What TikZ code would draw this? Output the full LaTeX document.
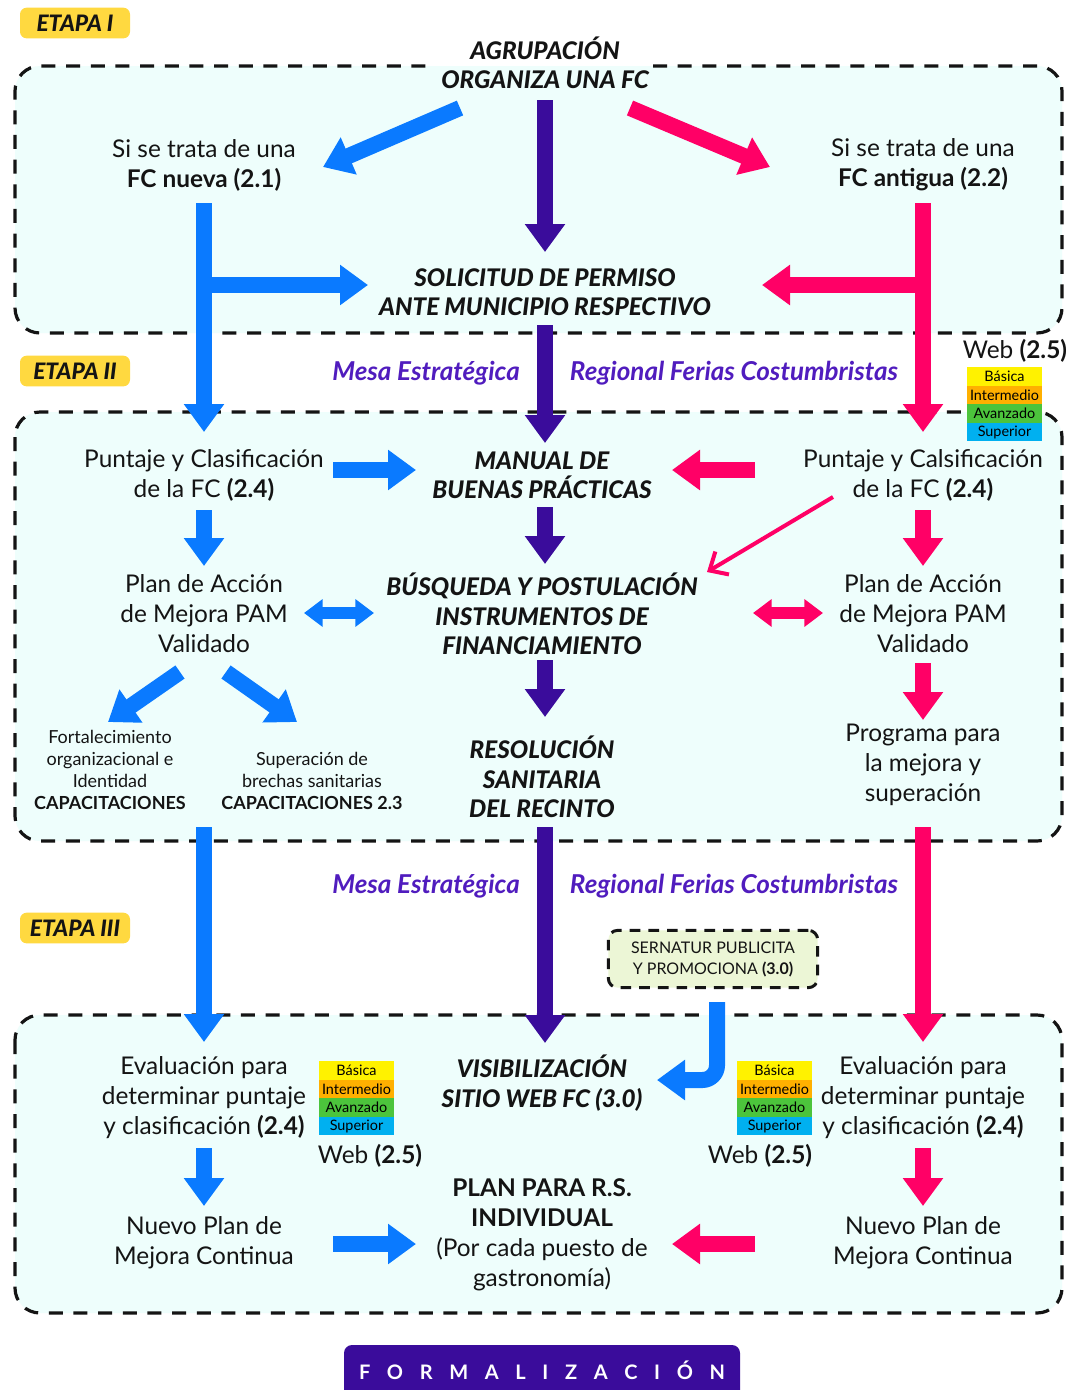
\documentclass[tikz,border=0pt]{standalone}
\usepackage{fontspec}
\setmainfont{Lato}
\newfontfamily\latoblk{Lato Black Italic}
\usetikzlibrary{arrows.meta}
\definecolor{cblue}{RGB}{10,122,255}
\definecolor{cpurple}{RGB}{58,12,155}
\definecolor{cpink}{RGB}{255,0,102}
\definecolor{cyel}{RGB}{255,217,64}
\definecolor{cfill}{RGB}{238,254,252}
\definecolor{lbas}{RGB}{255,242,0}
\definecolor{lint}{RGB}{255,176,0}
\definecolor{lava}{RGB}{76,196,60}
\definecolor{lsup}{RGB}{0,176,240}
\definecolor{cmesa}{RGB}{80,28,190}
\definecolor{csern}{RGB}{236,246,214}
\definecolor{cink}{RGB}{20,20,20}
\newcommand{\fmain}{\fontsize{18.3}{22.5}\selectfont}
\newcommand{\fhead}{\fontsize{18.2}{22}\latoblk}
\newcommand{\fsmall}{\fontsize{13.5}{16.5}\selectfont}
\newcommand{\fbadge}{\fontsize{10.8}{13}\selectfont}
\newcommand{\fmesa}{\fontsize{19.5}{22}\selectfont\bfseries\itshape}
\newcommand{\fsern}{\fontsize{12}{15.75}\selectfont}
\tikzset{
  fat/.style={line width=12pt, -{Triangle[width=29pt,length=21pt]}},
  dbl/.style={line width=8.5pt, {Triangle[width=20pt,length=14pt]}-{Triangle[width=20pt,length=14pt]}},
  thin/.style={line width=3pt, -{Straight Barb[length=11pt,width=20pt]}},
  dbox/.style={draw=cink, line width=2.4pt, dash pattern=on 10.5pt off 8pt, rounded corners=18.75pt},
  txt/.style={align=center, inner sep=0pt, text=cink, font=\fmain},
  head/.style={align=center, inner sep=0pt, text=cink, font=\fhead},
  small/.style={align=center, inner sep=0pt, text=cink, font=\fsmall},
  mesa/.style={inner sep=0pt, text=cmesa, font=\fmesa},
  etapa/.style={fill=cyel, rounded corners=5pt, minimum width=82.5pt, minimum height=23pt, inner sep=0pt, text=cink, font=\fontsize{17}{18}\latoblk},
  lvl/.style={inner sep=0pt, text=black, font=\fbadge},
  levels/.pic={
    \fill[lbas] (0,0) rectangle (75,18.5);
    \fill[lint] (0,18.5) rectangle (75,37);
    \fill[lava] (0,37) rectangle (75,55.5);
    \fill[lsup] (0,55.5) rectangle (75,74);
    \node[lvl] (-b) at (37.5,9.5) {Básica};
    \node[lvl] (-i) at (37.5,28) {Intermedio};
    \node[lvl] (-a) at (37.5,46.5) {Avanzado};
    \node[lvl] (-s) at (37.5,65) {Superior};
  }
}
\begin{document}
\begin{tikzpicture}[x=0.75pt,y=-0.75pt]
\useasboundingbox (0,0) rectangle (1066,1390);
\fill[white] (0,0) rectangle (1066,1390);
% stage boxes
\fill[cfill, rounded corners=18.75pt] (15,66) rectangle (1062,333);
\draw[dbox] (653,66) -- (1062,66) -- (1062,333) -- (15,333) -- (15,66) -- (430,66);
\fill[cfill, rounded corners=18.75pt] (15,412) rectangle (1062,841);
\draw[dbox] (15,412) rectangle (1062,841);
\fill[cfill, rounded corners=18.75pt] (15,1015) rectangle (1062,1313);
\draw[dbox] (15,1015) rectangle (1062,1313);
% stage labels
\node[etapa] (et1) at (75,23) {ETAPA I};
\node[etapa] (et2) at (75,371) {ETAPA II};
\node[etapa] (et3) at (75,928) {ETAPA III};
% ETAPA I texts
\node[head] (agr) at (545,63) {AGRUPACIÓN\\ORGANIZA UNA FC};
\node[txt] (nueva) at (204,165) {Si se trata de una\\\textbf{FC nueva (2.1)}};
\node[txt] (antigua) at (923,165) {Si se trata de una\\\textbf{FC antigua (2.2)}};
\node[head] (sol) at (545,292) {SOLICITUD DE PERMISO\\ANTE MUNICIPIO RESPECTIVO};
\node[mesa] (mesa1) at (426,373) {Mesa Estratégica};
\node[mesa] (reg1) at (734,373) {Regional Ferias Costumbristas};
\node[txt] (web1) at (1015,351) {Web \textbf{(2.5)}};
\pic (bd1) at (967,367) {levels};
% ETAPA II texts
\node[txt] (punt1) at (204,475) {Puntaje y Clasificación\\de la FC \textbf{(2.4)}};
\node[head] (manual) at (542,475) {MANUAL DE\\BUENAS PRÁCTICAS};
\node[txt] (punt2) at (923,475) {Puntaje y Calsificación\\de la FC \textbf{(2.4)}};
\node[txt] (plan1) at (204,614) {Plan de Acción\\de Mejora PAM\\Validado};
\node[head] (busq) at (542,614) {BÚSQUEDA Y POSTULACIÓN\\INSTRUMENTOS DE\\FINANCIAMIENTO};
\node[txt] (plan2) at (923,614) {Plan de Acción\\de Mejora PAM\\Validado};
\node[small] (fort) at (110,770) {Fortalecimiento\\organizacional e\\Identidad\\\textbf{CAPACITACIONES}};
\node[small] (supe) at (312,781) {Superación de\\brechas sanitarias\\\textbf{CAPACITACIONES 2.3}};
\node[head] (resol) at (542,777) {RESOLUCIÓN\\SANITARIA\\DEL RECINTO};
\node[txt] (prog) at (923,765) {Programa para\\la mejora y\\superación};
% between II and III
\node[mesa] (mesa2) at (426,886) {Mesa Estratégica};
\node[mesa] (reg2) at (734,886) {Regional Ferias Costumbristas};
\node[draw=cink, line width=2.25pt, dash pattern=on 8pt off 6pt, rounded corners=7pt, fill=csern,
      minimum width=157pt, minimum height=43pt, align=center, inner sep=0pt, text=cink, font=\fsern]
      (sern) at (713,959) {SERNATUR PUBLICITA\\Y PROMOCIONA \textbf{(3.0)}};
% ETAPA III texts
\node[txt] (eval1) at (204,1098) {Evaluación para\\determinar puntaje\\y clasificación \textbf{(2.4)}};
\node[head] (visib) at (542,1083) {VISIBILIZACIÓN\\SITIO WEB FC (3.0)};
\node[txt] (eval2) at (923,1098) {Evaluación para\\determinar puntaje\\y clasificación \textbf{(2.4)}};
\pic (bd2) at (319,1061) {levels};
\pic (bd3) at (737,1061) {levels};
\node[txt] (web2) at (370,1156) {Web \textbf{(2.5)}};
\node[txt] (web3) at (760,1156) {Web \textbf{(2.5)}};
\node[txt] (nuevo1) at (204,1243) {Nuevo Plan de\\Mejora Continua};
\node[txt] (planrs) at (542,1235) {\textbf{PLAN PARA R.S.}\\\textbf{INDIVIDUAL}\\(Por cada puesto de\\gastronomía)};
\node[txt] (nuevo2) at (923,1243) {Nuevo Plan de\\Mejora Continua};
% formalizacion
\fill[cpurple, rounded corners=6pt] (344,1345) rectangle (740,1400);
\node[inner sep=0pt, text=white, font=\fontsize{15}{18}\selectfont\bfseries] (form) at (542,1370)
  {\hbox to 274.5pt{F\hfil O\hfil R\hfil M\hfil A\hfil L\hfil I\hfil Z\hfil A\hfil C\hfil I\hfil Ó\hfil N}};
% arrow coordinates
\coordinate (p1s) at (545,100); \coordinate (p1e) at (545,252);
\coordinate (p2s) at (545,325); \coordinate (p2e) at (545,443);
\coordinate (p3s) at (545,507); \coordinate (p3e) at (545,564);
\coordinate (p4s) at (545,660); \coordinate (p4e) at (545,717);
\coordinate (p5s) at (545,827); \coordinate (p5e) at (545,1043);
\coordinate (b1s) at (460,108); \coordinate (b1e) at (323,167);
\coordinate (b2s) at (204,203); \coordinate (b2e) at (204,432);
\coordinate (b3s) at (204,285); \coordinate (b3e) at (368,285);
\coordinate (b4s) at (333,470); \coordinate (b4e) at (416,470);
\coordinate (b5s) at (204,510); \coordinate (b5e) at (204,566);
\coordinate (b6s) at (304,613); \coordinate (b6e) at (374,613);
\coordinate (b7s) at (180,672); \coordinate (b7e) at (108,722);
\coordinate (b8s) at (226,672); \coordinate (b8e) at (297,722);
\coordinate (b9s) at (204,827); \coordinate (b9e) at (204,1042);
\coordinate (b10s) at (717,1002); \coordinate (b10e) at (657,1080);
\coordinate (b11s) at (204,1148); \coordinate (b11e) at (204,1206);
\coordinate (b12s) at (333,1244); \coordinate (b12e) at (416,1244);
\coordinate (k1s) at (630,108); \coordinate (k1e) at (770,167);
\coordinate (k2s) at (923,203); \coordinate (k2e) at (923,432);
\coordinate (k3s) at (923,285); \coordinate (k3e) at (762,285);
\coordinate (k4s) at (755,470); \coordinate (k4e) at (672,470);
\coordinate (k5s) at (923,510); \coordinate (k5e) at (923,566);
\coordinate (k6s) at (833,497); \coordinate (k6e) at (707,572);
\coordinate (k7s) at (753,613); \coordinate (k7e) at (823,613);
\coordinate (k8s) at (923,663); \coordinate (k8e) at (923,720);
\coordinate (k9s) at (923,827); \coordinate (k9e) at (923,1042);
\coordinate (k10s) at (923,1148); \coordinate (k10e) at (923,1206);
\coordinate (k11s) at (755,1244); \coordinate (k11e) at (672,1244);
% purple arrows
\foreach \a in {p1,p2,p3,p4,p5} \draw[fat, cpurple] (\a s) -- (\a e);
% blue arrows
\foreach \a in {b1,b2,b3,b4,b5,b7,b8,b9,b11,b12} \draw[fat, cblue] (\a s) -- (\a e);
\draw[dbl, cblue] (b6s) -- (b6e);
\draw[fat, cblue, rounded corners=11pt] (b10s) -- (b10s |- b10e) -- (b10e);
% pink arrows
\foreach \a in {k1,k2,k3,k4,k5,k8,k9,k10,k11} \draw[fat, cpink] (\a s) -- (\a e);
\draw[dbl, cpink] (k7s) -- (k7e);
\draw[thin, cpink] (k6s) -- (k6e);
\end{tikzpicture}
\end{document}
